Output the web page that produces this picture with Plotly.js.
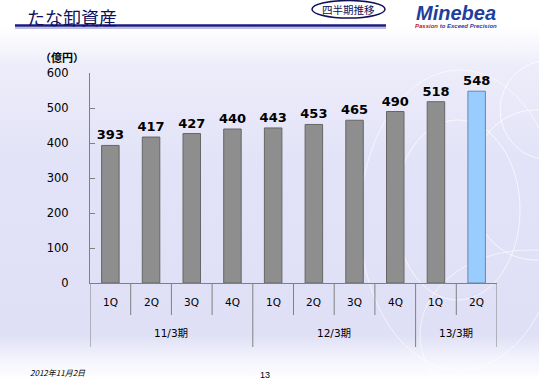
<!DOCTYPE html>
<html><head><meta charset="utf-8">
<script src="https://cdn.plot.ly/plotly-3.0.1.min.js"></script>
<style>
html,body{margin:0;padding:0;}
body{width:539px;height:380px;overflow:hidden;
background:linear-gradient(to bottom,#ffffff 0%,#ffffff 7%,#ececfa 18%,#e2e2f8 45%,#dfdff6 88%,#f2f2fc 94%,#ffffff 100%);}
#chart{width:539px;height:380px;}
</style></head>
<body><div id="chart"></div>
<script>
const fiscalYears = ['11/3期','12/3期','13/3期'];
const quartersPerYear = [4,4,2];
const quarterLabels = ['1Q','2Q','3Q','4Q','1Q','2Q','3Q','4Q','1Q','2Q'];
const inventory = [393,417,427,440,443,453,465,490,518,548];
const yTicks = [0,100,200,300,400,500,600];

const W=539,H=380,L=90,R=42,T=73,B=97;
const pw=W-L-R, ph=H-T-B;
const px=x=>(x-L)/pw, py=y=>(H-B-y)/ph;

const idx = inventory.map((v,i)=>i);
const n = inventory.length;
const barColors = idx.map(i=> i===n-1 ? '#99ccff' : '#8e8e8e');
const lineColors = idx.map(i=> i===n-1 ? '#6f86a0' : '#666666');

const trace = {
  type:'bar',
  x:idx,
  y:inventory,
  width:0.43,
  marker:{color:barColors, line:{color:lineColors, width:1}},
  text:inventory.map(v=>'<b>'+v+'</b>'),
  textposition:'outside',
  constraintext:'none',
  textfont:{family:'DejaVu Sans', size:13, color:'#000'},
  cliponaxis:false,
  hoverinfo:'none'
};

const jp = '"Noto Sans CJK JP", sans-serif';
const annotations = [
  {text:'たな卸資産', x:px(25), y:py(17), xanchor:'left', yanchor:'middle', font:{family:jp,size:18,color:'#10105a'}},
  {text:'四半期推移', x:px(348.5), y:py(9.5), xanchor:'center', yanchor:'middle', font:{family:jp,size:10.5,color:'#10105a'}},
  {text:'<b><i>Minebea</i></b>', x:px(456), y:py(13), xanchor:'center', yanchor:'middle', font:{family:'Liberation Sans',size:20,color:'#1f3f9e'}},
  {text:'<b><i><span style="color:#d01010">Passion</span> to Exceed Precision</i></b>', x:px(456), y:py(26.5), xanchor:'center', yanchor:'middle', font:{family:'Liberation Sans',size:6,color:'#1f3f9e'}},
  {text:'<b>（億円）</b>', x:px(62), y:py(57), xanchor:'center', yanchor:'middle', font:{family:jp,size:11,color:'#000'}},
  {text:'<i>2012年11月2日</i>', x:px(28), y:py(372), xanchor:'left', yanchor:'middle', font:{family:jp,size:8,color:'#000'}},
  {text:'13', x:px(265), y:py(375), xanchor:'center', yanchor:'middle', font:{family:'Liberation Sans',size:9,color:'#000'}}
].map(a=>Object.assign({xref:'paper',yref:'paper',showarrow:false},a));

// quarter labels (row 1)
quarterLabels.forEach((q,i)=>{
  annotations.push({xref:'x',yref:'paper',x:i,y:py(302),text:q,showarrow:false,xanchor:'center',yanchor:'middle',
    font:{family:'"DejaVu Sans", sans-serif',size:10.5,color:'#000'}});
});
// fiscal year labels (row 2) and separators
const shapes = [];
let start = 0;
const boundaries = [-0.5];
fiscalYears.forEach((fy,g)=>{
  const cnt = quartersPerYear[g];
  annotations.push({xref:'x',yref:'paper',x:start+(cnt-1)/2,y:py(333),text:fy,showarrow:false,xanchor:'center',yanchor:'middle',
    font:{family:'"DejaVu Sans", "Noto Sans CJK JP", sans-serif',size:10.5,color:'#000'}});
  start += cnt;
  boundaries.push(start-0.5);
});
for(let i=0;i<=n;i++){
  const b = i-0.5;
  const isGroup = boundaries.includes(b);
  shapes.push({type:'line',xref:'x',yref:'paper',x0:b,x1:b,y0:py(283),y1:py(isGroup?347:315),line:{color:'#808080',width:1}});
}

const paperShapes = [
  {type:'line', x0:px(15), x1:px(386), y0:py(25.5), y1:py(25.5), line:{color:'#1a1a80',width:2.5}},
  {type:'line', x0:px(15), x1:px(386), y0:py(28), y1:py(28), line:{color:'#7a7acc',width:1}},
  {type:'circle', x0:px(312), x1:px(385), y0:py(0.5), y1:py(18), line:{color:'#10105a',width:1.5}, fillcolor:'#ffffff', layer:'below'},
  {type:'circle', x0:px(395), x1:px(520), y0:py(120), y1:py(300), line:{color:'rgba(255,255,255,0.7)',width:1}, layer:'below'},
  {type:'circle', x0:px(470), x1:px(600), y0:py(110), y1:py(260), line:{color:'rgba(255,255,255,0.7)',width:1}, layer:'below'},
  {type:'circle', x0:px(500), x1:px(600), y0:py(60), y1:py(160), line:{color:'rgba(255,255,255,0.7)',width:1}, layer:'below'},
  {type:'circle', x0:px(360), x1:px(560), y0:py(70), y1:py(370), line:{color:'rgba(255,255,255,0.6)',width:1}, layer:'below'},
  {type:'circle', x0:px(420), x1:px(640), y0:py(250), y1:py(420), line:{color:'rgba(255,255,255,0.6)',width:1}, layer:'below'}
].map(s=>Object.assign({xref:'paper',yref:'paper'},s));

const layout = {
  width:W, height:H,
  margin:{l:L,r:R,t:T,b:B},
  paper_bgcolor:'rgba(0,0,0,0)', plot_bgcolor:'rgba(0,0,0,0)',
  showlegend:false,
  xaxis:{range:[-0.5,n-0.5], showline:true, linecolor:'#808080', linewidth:1,
    showticklabels:false, ticks:'', showgrid:false, zeroline:false, fixedrange:true},
  yaxis:{range:[0,600], tickvals:yTicks, ticktext:yTicks.map(String),
    showline:true, linecolor:'#808080', linewidth:1, showgrid:false, zeroline:false,
    ticks:'inside', ticklen:5, tickcolor:'#808080',
    tickfont:{family:'DejaVu Sans', size:11.5, color:'#000'}, ticklabelstandoff:18, fixedrange:true},
  annotations, shapes: paperShapes.concat(shapes)
};
Plotly.newPlot('chart',[trace],layout,{displayModeBar:false,staticPlot:true});
</script></body></html>
